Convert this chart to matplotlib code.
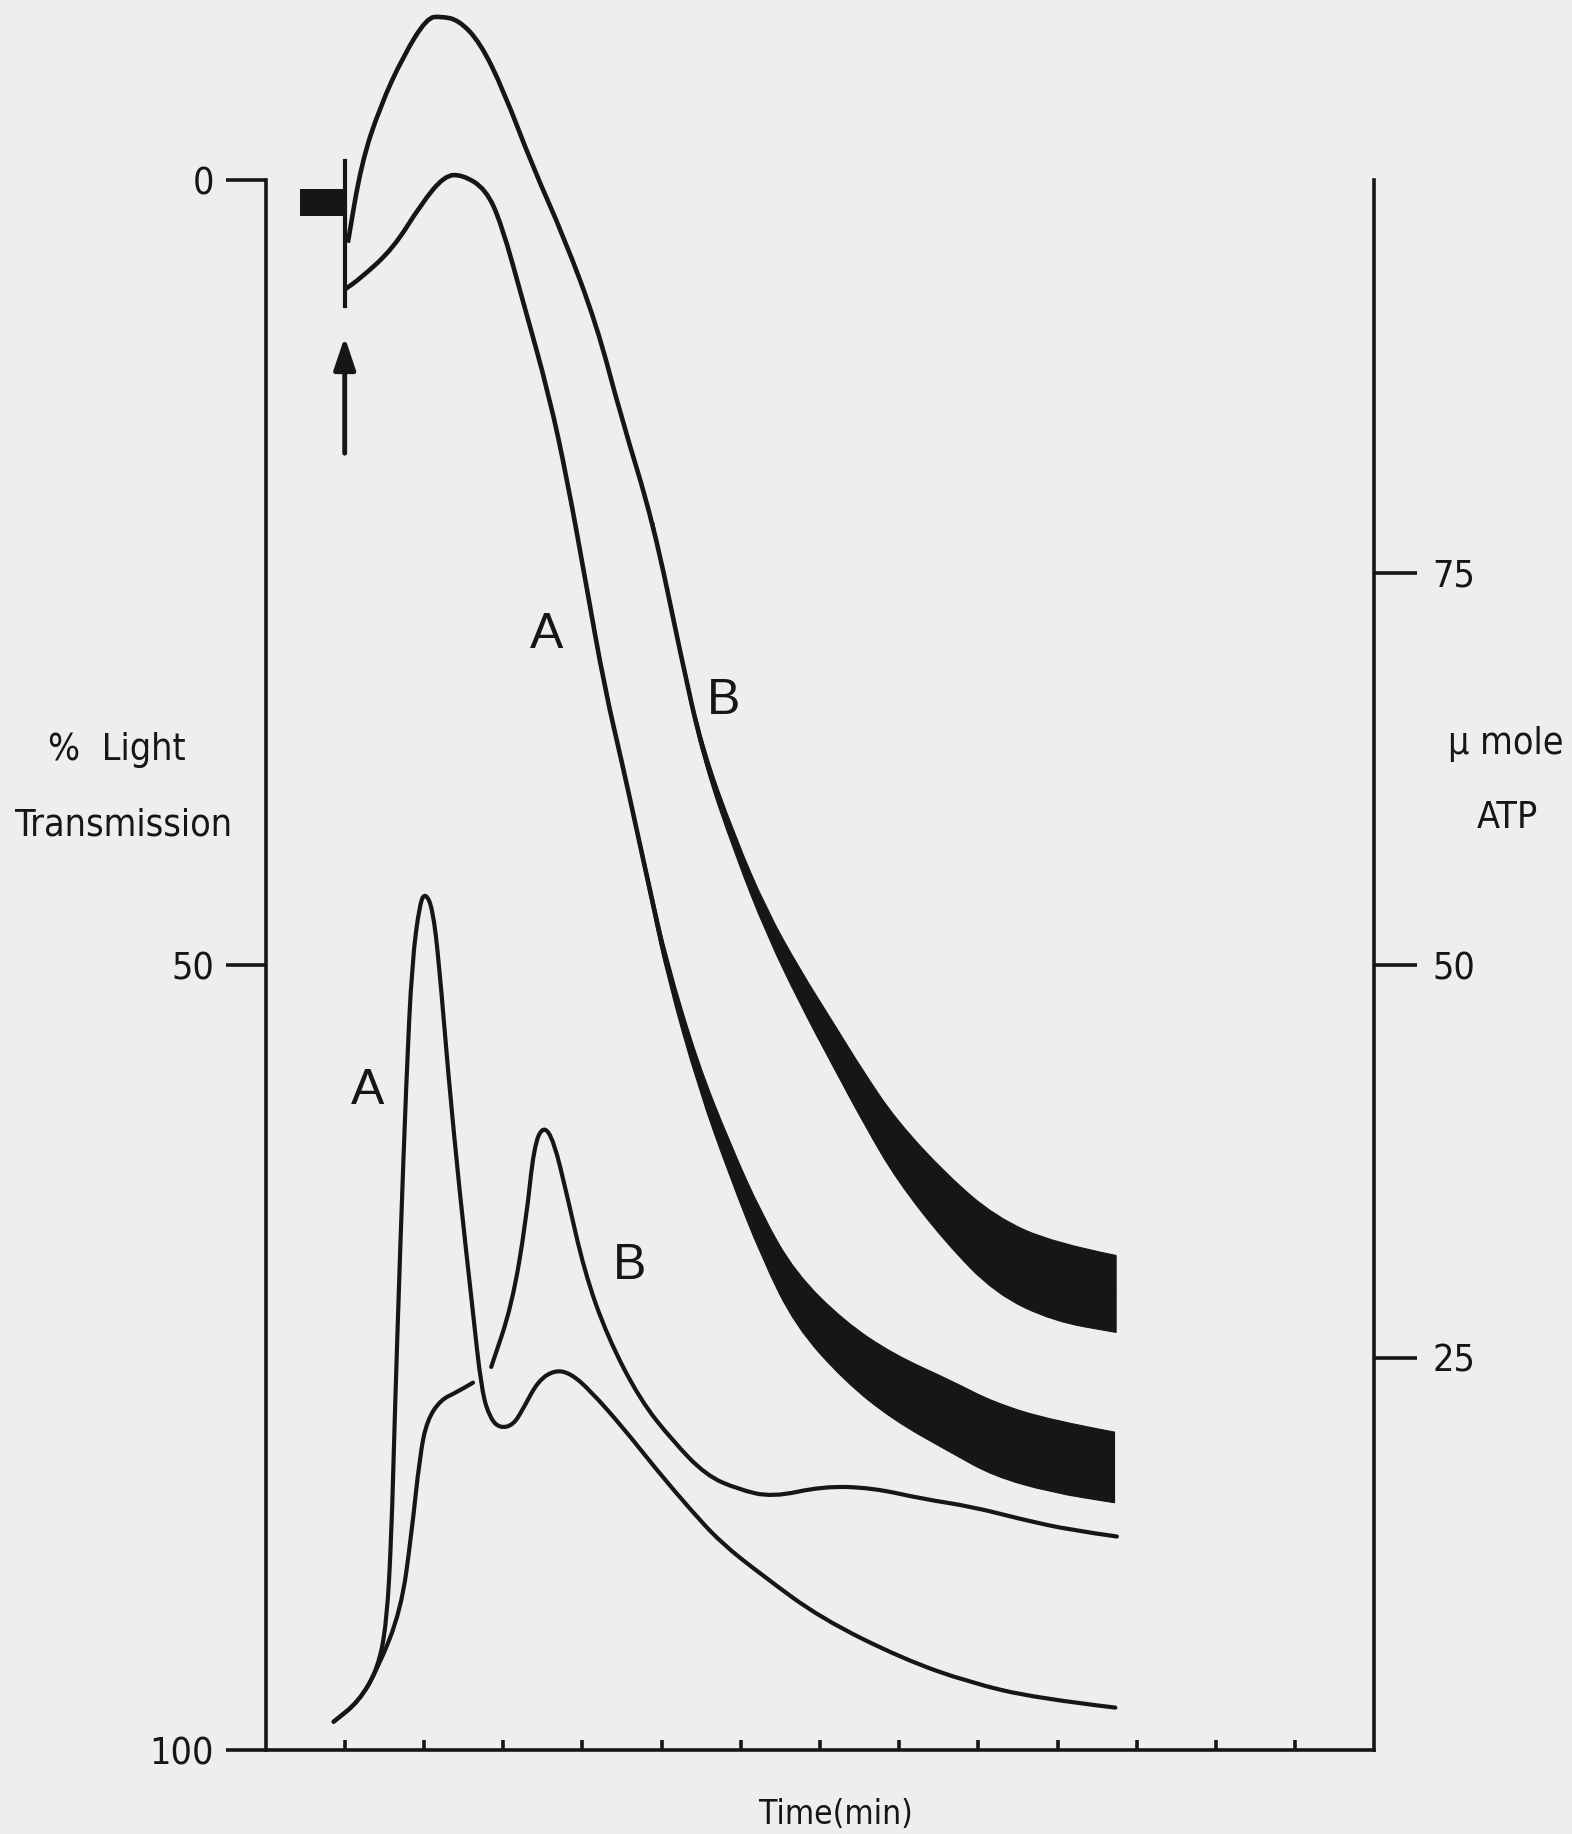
import matplotlib
matplotlib.use("Agg")
import matplotlib.pyplot as plt
from matplotlib import font_manager as fm
from matplotlib.path import Path
from matplotlib.patches import PathPatch
import numpy as np

# ---------------- data ----------------
# Upper trace B (% light transmission), time in min; noise = half-width of the noisy band
trans_b_time = [1.04, 1.21, 1.45, 1.74, 2.04, 2.22, 2.44, 2.71, 3.00, 3.37, 3.77, 4.18, 4.49,
                4.90, 5.24, 5.52, 5.93, 6.33, 6.75, 7.16, 7.57, 7.97, 8.59, 9.22, 9.95, 10.74]
trans_b_val = [3.99, -1.07, -4.72, -7.9, -10.35, -10.42, -10.19, -8.76, -5.77, -0.9, 3.66, 9.19, 15.09,
               21.9, 30.2, 36.5, 42.4, 47.3, 51.4, 55.0, 58.6, 61.8, 65.5, 68.5, 70.2, 70.95]
trans_b_noise = [0, 0, 0, 0, 0, 0, 0, 0, 0, 0, 0, 0, 0,
                 0.1, 0.3, 0.45, 0.6, 0.8, 1.1, 1.4, 1.65, 1.9, 2.2, 2.45, 2.5, 2.45]

# Upper trace A
trans_a_time = [1.00, 1.19, 1.61, 1.97, 2.26, 2.48, 2.78, 2.98, 3.26, 3.58, 3.81, 4.05, 4.28,
                4.51, 4.67, 4.87, 5.07, 5.46, 5.87, 6.27, 6.69, 7.31, 7.93, 8.67, 9.19, 9.92, 10.72]
trans_a_val = [6.97, 6.3, 4.38, 1.49, -0.28, -0.35, 0.56, 2.8, 7.88, 13.7, 19.1, 25.8, 32.3,
               37.3, 41.0, 45.6, 50.2, 57.0, 62.5, 67.3, 71.3, 74.6, 76.9, 78.8, 80.2, 81.3, 82.0]
trans_a_noise = [0, 0, 0, 0, 0, 0, 0, 0, 0, 0, 0, 0, 0.1,
                 0.2, 0.35, 0.45, 0.6, 0.8, 1.1, 1.4, 1.7, 1.9, 2.1, 2.3, 2.35, 2.3, 2.25]

# Lower trace A (ATP release, tall peak) -- plotted in left-scale units
atp_a_time = [0.86, 1.18, 1.42, 1.53, 1.59, 1.63, 1.70, 1.78, 1.85, 1.95, 2.02, 2.11, 2.19, 2.31,
              2.45, 2.61, 2.73, 2.84, 2.96, 3.13, 3.26, 3.44, 3.65, 3.85, 4.10, 4.52, 4.93, 5.35,
              5.75, 6.28, 7.01, 8.05, 8.89, 9.73, 10.73]
atp_a_val = [98.2, 96.9, 94.8, 91.9, 86.4, 79.1, 68.1, 57.1, 49.8, 46.0, 45.4, 46.4, 49.8, 57.1,
             64.4, 71.7, 77.2, 78.9, 79.5, 79.3, 78.2, 76.5, 75.8, 76.0, 77.1, 79.5, 82.1, 84.6,
             86.8, 88.9, 91.6, 94.2, 95.7, 96.7, 97.3]

# Lower trace B: shoulder part, then (after a break) peak and tail
atp_b1_time = [0.86, 1.18, 1.42, 1.71, 1.84, 1.95, 2.04, 2.21, 2.42, 2.62]
atp_b1_val = [98.2, 96.9, 94.8, 91.1, 86.4, 81.2, 79.0, 77.7, 77.2, 76.6]
atp_b2_time = [2.85, 3.11, 3.29, 3.39, 3.51, 3.64, 3.80, 4.03, 4.32, 4.73, 5.14, 5.56, 5.97,
               6.40, 7.04, 7.66, 8.29, 8.92, 9.54, 10.17, 10.75]
atp_b2_val = [75.6, 71.7, 66.3, 61.5, 60.2, 61.2, 64.5, 69.6, 73.7, 77.7, 80.3, 82.5, 83.4,
              83.9, 83.2, 83.3, 84.0, 84.5, 85.3, 86.0, 86.4]

# Baseline pen mark before addition, injection mark and arrow
base_time = [0.43, 0.985]
base_low, base_high = 0.54, 2.27
inject_time = 1.01
inject_span = [-1.23, 8.0]
arrow_time = 1.0
arrow_tip, arrow_tail = 10.0, 17.4

left_ticks = [0, 50, 100]
left_ticklabels = ["0", "50", "100"]
right_ticks = [25, 50, 75]
right_ticklabels = ["25", "50", "75"]
time_ticks = list(range(1, 14))

# curve labels: (text, time, value)
curve_labels = [("A", 3.55, 29.0), ("B", 5.78, 33.2), ("A", 1.29, 58.0), ("B", 4.6, 69.2)]

# ---------------- fonts ----------------
def find_narrow():
    prefs = ["Liberation Sans Narrow", "DejaVu Sans", "Noto Sans", "Roboto Condensed",
             "Open Sans", "Roboto", "Lato", "Inter"]
    best = None
    for f in fm.fontManager.ttflist:
        st = str(f.stretch).lower()
        narrowish = ("narrow" in f.name.lower() or "condensed" in f.name.lower()
                     or st in ("condensed", "semi-condensed", "extra-condensed"))
        if not narrowish or str(f.style) != "normal":
            continue
        w = f.weight
        if isinstance(w, str):
            w = {"normal": 400, "regular": 400, "book": 400}.get(w.lower(), 700)
        if w != 400:
            continue
        rank = prefs.index(f.name) if f.name in prefs else 50
        if best is None or rank < best[0]:
            best = (rank, f.fname)
    return best[1] if best else None

names = {f.name for f in fm.fontManager.ttflist}
regular = "Liberation Sans" if "Liberation Sans" in names else "DejaVu Sans"
narrow_file = find_narrow()
if narrow_file:
    def FP(size):
        return fm.FontProperties(fname=narrow_file, size=size)
    TICK, LAB, TLAB = 27, 27, 24
else:
    def FP(size):
        return fm.FontProperties(family=[regular, "DejaVu Sans"], size=size)
    TICK, LAB, TLAB = 23, 23, 22

INK = "#161616"
BG = "#eeeeee"
W, H = 1572, 1834


def smooth_path(x, y):
    pts = np.column_stack([np.asarray(x, float), np.asarray(y, float)])
    n = len(pts)
    verts = [pts[0]]
    codes = [Path.MOVETO]
    if n < 3:
        verts.append(pts[-1]); codes.append(Path.LINETO)
        return verts, codes
    verts.append((pts[0] + pts[1]) / 2); codes.append(Path.LINETO)
    for i in range(1, n - 1):
        end = (pts[i] + pts[i + 1]) / 2 if i < n - 2 else pts[n - 1]
        verts += [pts[i], end]
        codes += [Path.CURVE3, Path.CURVE3]
    return verts, codes


def draw_curve(ax, x, y, lw, cap="round"):
    v, c = smooth_path(x, y)
    ax.add_patch(PathPatch(Path(v, c), fill=False, ec=INK, lw=lw,
                           capstyle=cap, joinstyle="round"))


def draw_band(ax, x, y, hw):
    x = np.asarray(x, float); y = np.asarray(y, float); hw = np.asarray(hw, float)
    m = hw > 0
    x, y, hw = x[m], y[m], hw[m]
    v1, c1 = smooth_path(x, y - hw)
    v2, c2 = smooth_path(x[::-1], (y + hw)[::-1])
    c2 = [Path.LINETO] + c2[1:]
    verts = v1 + v2 + [v1[0]]
    codes = c1 + c2 + [Path.CLOSEPOLY]
    ax.add_patch(PathPatch(Path(verts, codes), fc=INK, ec=INK, lw=0.8, joinstyle="miter"))


fig = plt.figure(figsize=(W / 100, H / 100), dpi=100, facecolor=BG)
ax = fig.add_axes([265.5 / W, 84 / H, (1374.3 - 265.5) / W, 1745 / H])
ax.set_facecolor("none")
ax.set_xlim(0, 14)
ax.set_ylim(100, -11.15)

# noisy light-transmission traces
for t, v, n in [(trans_b_time, trans_b_val, trans_b_noise), (trans_a_time, trans_a_val, trans_a_noise)]:
    draw_curve(ax, t, v, 3.3, cap="butt")
    draw_band(ax, t, v, n)

# ATP traces
draw_curve(ax, atp_a_time, atp_a_val, 3.0)
draw_curve(ax, atp_b1_time, atp_b1_val, 3.0)
draw_curve(ax, atp_b2_time, atp_b2_val, 3.0)

# baseline mark, injection line and arrow
ax.fill_between(base_time, [base_low] * 2, [base_high] * 2, color=INK, lw=0)
ax.plot([inject_time, inject_time], inject_span, color=INK, lw=3.0)
ax.annotate("", xy=(arrow_time, arrow_tip), xytext=(arrow_time, arrow_tail),
            arrowprops=dict(arrowstyle="-|>,head_length=0.65,head_width=0.22",
                            mutation_scale=30, lw=3.5, color=INK, shrinkA=0, shrinkB=0))

for txt, t, v in curve_labels:
    ax.text(t, v, txt, fontsize=36, family=[regular, "DejaVu Sans"], color=INK,
            ha="center", va="center")

# axes
for s in ["top", "right"]:
    ax.spines[s].set_visible(False)
for s in ["left", "bottom"]:
    ax.spines[s].set_linewidth(2.6)
    ax.spines[s].set_color(INK)
ax.spines["left"].set_bounds(0, 100)
ax.set_yticks(left_ticks)
ax.set_yticklabels(left_ticklabels, fontproperties=FP(TICK))
ax.tick_params(axis="y", direction="out", length=29, width=2.6, pad=8, colors=INK)
ax.set_xticks(time_ticks)
ax.tick_params(axis="x", direction="in", length=7, width=2.6, labelbottom=False, colors=INK)

ax2 = ax.twinx()
ax2.set_ylim(0, 111.15)
for s in ["top", "left", "bottom"]:
    ax2.spines[s].set_visible(False)
ax2.spines["right"].set_linewidth(2.6)
ax2.spines["right"].set_color(INK)
ax2.spines["right"].set_bounds(0, 100)
ax2.set_yticks(right_ticks)
ax2.set_yticklabels(right_ticklabels, fontproperties=FP(TICK))
ax2.tick_params(axis="y", direction="out", length=31, width=2.6, pad=11, colors=INK)

# axis titles
fig.text(117 / W, 1 - 750 / H, "%  Light", fontproperties=FP(LAB), color=INK, ha="center", va="center")
fig.text(124 / W, 1 - 826 / H, "Transmission", fontproperties=FP(LAB), color=INK, ha="center", va="center")
fig.text(1506 / W, 1 - 744 / H, "μ mole", fontproperties=FP(LAB), color=INK, ha="center", va="center")
fig.text(1507 / W, 1 - 818 / H, "ATP", fontproperties=FP(LAB), color=INK, ha="center", va="center")
fig.text(836 / W, 1 - 1814 / H, "Time(min)", fontproperties=FP(TLAB), color=INK, ha="center", va="center")

fig.savefig("out.png", dpi=100, facecolor=BG)
